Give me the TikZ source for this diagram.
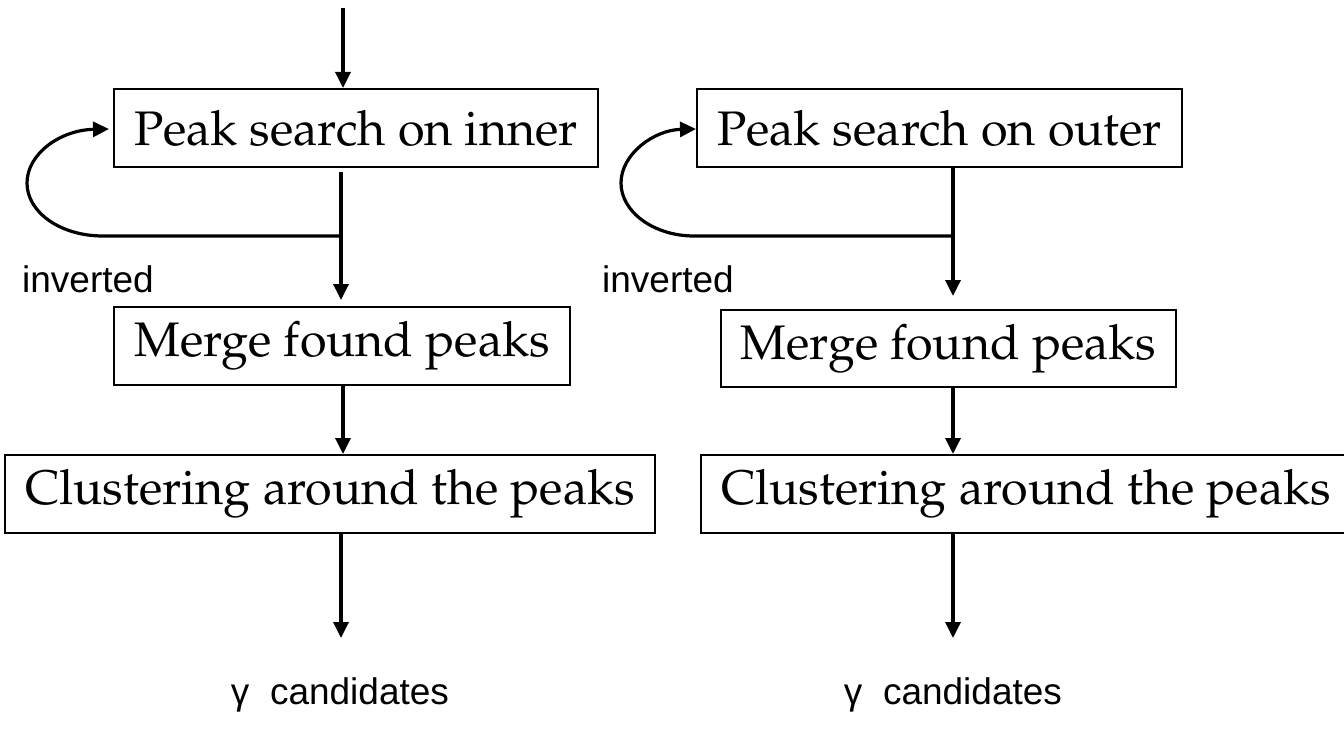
\documentclass[tikz,border=0pt]{standalone}
\usepackage[T1]{fontenc}
\usepackage{fontspec}
\usetikzlibrary{arrows.meta}
\newfontfamily\labelfont{Liberation Sans}
\newcommand\palfont{\fontencoding{T1}\fontfamily{ppl}\selectfont}
\begin{document}
\begin{tikzpicture}[x=1pt,y=-1pt,
  box/.style={draw,line width=2pt,inner sep=0pt,minimum height=78pt,
    font=\palfont\fontsize{48.5}{56}\selectfont},
  tip/.style={-{Triangle[length=16pt,width=15pt]}},
  flow/.style={line width=3.4pt,tip},
  loopline/.style={line width=3.2pt,tip},
  lbl/.style={font=\labelfont\fontsize{37}{44}\selectfont,inner sep=0pt}]
\useasboundingbox (0,0) rectangle (1344,733);

% ---------- left column ----------
\node[box,minimum width=484pt] (inL) at (356,128) {Peak search on inner};
\node[box,minimum width=456pt] (mgL) at (342,346) {Merge found peaks};
\node[box,minimum width=650pt] (clL) at (330,494) {Clustering around the peaks};
\node[lbl] (invL) at (88,279) {inverted};
\node[lbl] (gL) at (340,695) {γ\ \ candidates};

\coordinate (startL) at (343,8);
\coordinate (dL) at (341,172);
\coordinate (jL) at (341,236);
\coordinate (colL) at (343,0);
\coordinate (endL) at (341,638);

\draw[flow] (startL) -- (startL |- inL.north);
\draw[flow] (dL) -- ([yshift=6pt]mgL.north -| dL);
\draw[loopline] (jL) -- (103,236) .. controls (60,236) and (27,212) .. (27,183)
  .. controls (27,154) and (60,130) .. ([xshift=-4pt,yshift=-1pt]inL.west);
\draw[flow] (mgL.south -| colL) -- (clL.north -| colL);
\draw[flow] (clL.south -| endL) -- (endL);

% ---------- right column ----------
\node[box,minimum width=485pt] (inR) at (939.5,128) {Peak search on outer};
\node[box,minimum width=455pt,minimum height=77pt] (mgR) at (948.5,348.5) {Merge found peaks};
\node[box,minimum width=650pt] (clR) at (1026,494) {Clustering around the peaks};
\node[lbl] (invR) at (668,279) {inverted};
\node[lbl] (gR) at (953,695) {γ\ \ candidates};

\coordinate (jR) at (953,236);
\coordinate (endR) at (953,638);

\draw[flow] (inR.south -| jR) -- ([yshift=13pt]mgR.north -| jR);
\draw[loopline] (jR) -- (694,236) .. controls (654,236) and (621,212) .. (621,183)
  .. controls (621,154) and (654,130) .. ([yshift=-1pt]inR.west);
\draw[flow] (mgR.south -| jR) -- (clR.north -| jR);
\draw[flow] (clR.south -| endR) -- (endR);
\end{tikzpicture}
\end{document}
